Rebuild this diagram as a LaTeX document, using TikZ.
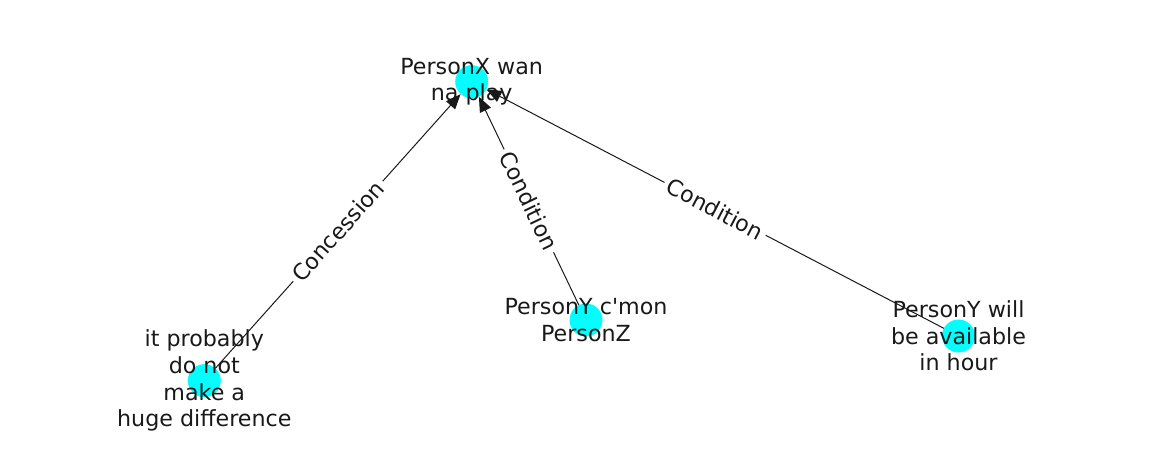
\documentclass[tikz,border=0pt]{standalone}
\usepackage{fontspec}
\setmainfont{DejaVu Sans}[Ligatures=TeXOff]
\usetikzlibrary{arrows.meta}
\definecolor{aqua}{RGB}{0,255,255}
\pgfdeclarelayer{background}
\pgfsetlayers{background,main}
\begin{document}
\begin{tikzpicture}[x=1pt,y=-1pt,
  dot/.style={circle,fill=aqua,draw=none,minimum size=33pt,inner sep=0pt},
  lbl/.style={align=center,text=black!90,font=\fontsize{22.2}{26.6}\selectfont,inner sep=0pt},
  edge/.style={line width=1pt,black!90,-{Triangle[length=15pt,width=12pt]}},
  elbl/.style={sloped,midway,fill=white,rounded corners=6pt,inner sep=4pt,text=black!90,font=\fontsize{22.2}{26.6}\selectfont}]
\useasboundingbox (0,0) rectangle (1162,462);
\node[dot] (A) at (471.7,81.7) {};
\node[dot] (B) at (204.3,380.7) {};
\node[dot] (C) at (586,320) {};
\node[dot] (D) at (958.5,336) {};
\begin{pgfonlayer}{background}
\draw[edge] (B.center) -- (A);
\draw[edge] (C.center) -- (A);
\draw[edge] (D.center) -- (A);
\end{pgfonlayer}
\path (B) -- (A) node[elbl] (lBA) {Concession};
\path (C) -- (A) node[elbl] (lCA) {Condition};
\path (D) -- (A) node[elbl] (lDA) {Condition};
\node[lbl] (At) at (A) {PersonX wan\\na play};
\node[lbl] (Bt) at (B) {it probably\\do not\\make a\\huge difference};
\node[lbl] (Ct) at (C) {PersonY c'mon\\PersonZ};
\node[lbl] (Dt) at (D) {PersonY will\\be available\\in hour};
\end{tikzpicture}
\end{document}
